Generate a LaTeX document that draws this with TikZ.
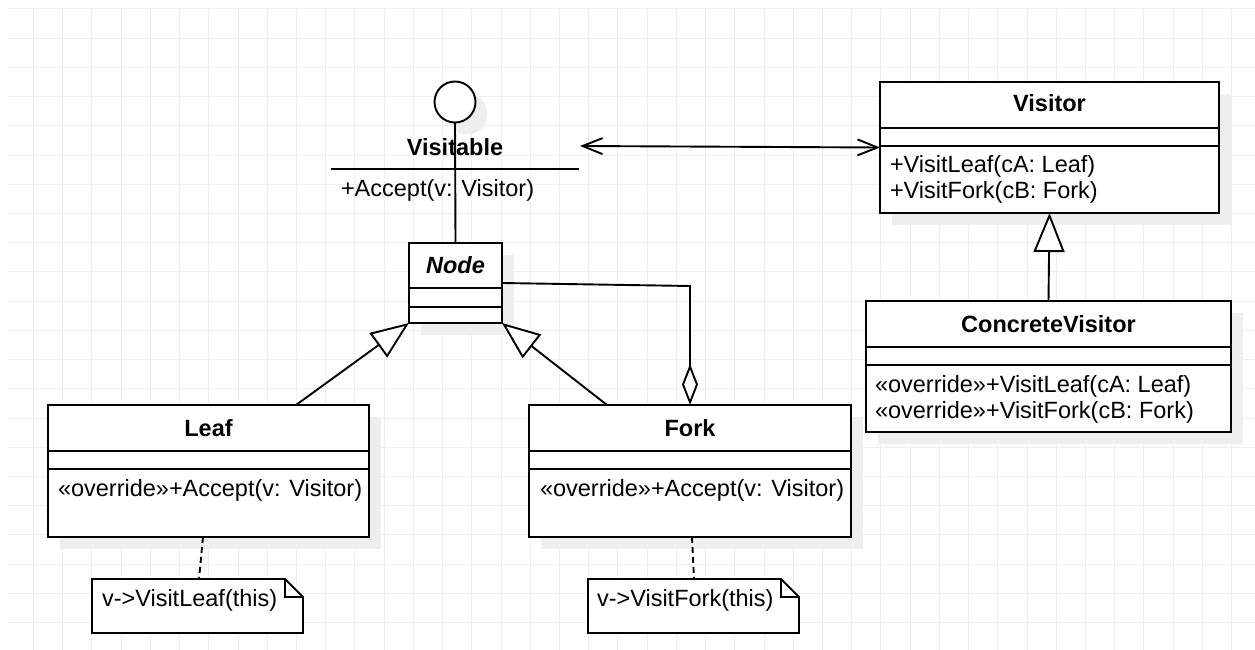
\documentclass[tikz,border=0pt]{standalone}
\usepackage{fontspec}
\setmainfont{Liberation Sans}
\usetikzlibrary{arrows.meta,calc}
\definecolor{gridc}{RGB}{238,238,238}
\definecolor{shadowc}{RGB}{238,238,238}

\begin{document}
\begin{tikzpicture}[x=1pt,y=-1pt,
  every node/.style={inner sep=0pt, outer sep=0pt},
  gridline/.style={draw=gridc, line width=1pt},
  umlline/.style={draw=black, line width=1.9pt, line join=miter},
  dropshade/.style={preaction={fill=shadowc, draw=none, transform canvas={xshift=12pt,yshift=-12pt}}},
  umlbox/.style={rectangle, draw=black, line width=1.9pt, fill=white, dropshade},
  notebox/.style={rectangle},
  classname/.style={font=\fontsize{23.5}{26}\selectfont\bfseries, anchor=base},
  member/.style={font=\fontsize{23.5}{26}\selectfont, anchor=base west},
  gentip/.style={-{Triangle[length=39pt,width=31pt,fill=white]}},
  aggtip/.style={-{Diamond[length=41pt,width=16pt,fill=white]}},
  navtip/.style={{Straight Barb[length=20pt,width=16pt]}-{Straight Barb[length=20pt,width=16pt]}},
  notelink/.style={umlline, dash pattern=on 6pt off 4pt}
]
\useasboundingbox (0,0) rectangle (1255,650);
\fill[white] (0,0) rectangle (1255,650);

% background grid
\foreach \i in {1,...,42} {
  \draw[gridline] ({4.3+29.22*\i},9) -- ({4.3+29.22*\i},650);
}
\foreach \j in {0,...,21} {
  \draw[gridline] (8,{9+29.22*\j}) -- (1255,{9+29.22*\j});
}

% interface lollipop
\node[circle, draw=black, line width=1.9pt, fill=white, minimum size=41pt, dropshade] (iface) at (455,102) {};
\node[classname] (iface-name) at (455,155) {Visitable};
\draw[umlline] (331,169) -- (579,169);
\node[member] (iface-op) at (341,196) {+Accept(v: Visitor)};

% class boxes
\node[umlbox, minimum width=339pt, minimum height=131pt] (visitor) at (1049.5,147.5) {};
\node[umlbox, minimum width=365pt, minimum height=131pt] (cvisitor) at (1048.5,366.5) {};
\node[umlbox, minimum width=93pt, minimum height=80pt] (nodecls) at (455.5,283) {};
\node[umlbox, minimum width=321pt, minimum height=132pt] (leaf) at (208.5,471) {};
\node[umlbox, minimum width=322pt, minimum height=132pt] (fork) at (690,471) {};

% compartment dividers
\foreach \b/\ya/\yb in {visitor/128/146, cvisitor/347/365, nodecls/288/307, leaf/451/469, fork/451/469} {
  \draw[umlline] (\b.west |- 0,\ya) -- (\b.east |- 0,\ya);
  \draw[umlline] (\b.west |- 0,\yb) -- (\b.east |- 0,\yb);
}

% class texts
\node[classname] (visitor-name) at (1049.5,112) {Visitor};
\node[member] (visitor-op1) at (890,172) {+VisitLeaf(cA: Leaf)};
\node[member] (visitor-op2) at (890,198) {+VisitFork(cB: Fork)};

\node[classname] (cvisitor-name) at (1048.5,332) {ConcreteVisitor};
\node[member] (cvisitor-op1) at (875,392) {«override»+VisitLeaf(cA: Leaf)};
\node[member] (cvisitor-op2) at (875,418) {«override»+VisitFork(cB: Fork)};

\node[classname, font=\fontsize{23.5}{26}\selectfont\bfseries\itshape] (node-name) at (455.5,273) {Node};

\node[classname] (leaf-name) at (208.5,436) {Leaf};
\node[member] (leaf-op) at (58,496) {«override»+Accept(v: Visitor)};

\node[classname] (fork-name) at (690,436) {Fork};
\node[member] (fork-op) at (540,496) {«override»+Accept(v: Visitor)};

% notes with folded corner
\node[notebox, minimum width=211pt, minimum height=54pt] (leafnote) at (197.5,606) {};
\node[notebox, minimum width=211pt, minimum height=54pt] (forknote) at (693.5,606) {};
\foreach \n in {leafnote, forknote} {
  \draw[umlline, fill=white] (\n.north west) -- ([xshift=-18pt]\n.north east)
    -- ([yshift=-18pt]\n.north east) -- (\n.south east) -- (\n.south west) -- cycle;
  \draw[umlline] ([xshift=-18pt]\n.north east) -- ([xshift=-18pt,yshift=-18pt]\n.north east)
    -- ([yshift=-18pt]\n.north east);
}
\node[member] (leafnote-text) at (102,606) {v->VisitLeaf(this)};
\node[member] (forknote-text) at (597,606) {v->VisitFork(this)};

% connectors
\coordinate (assocend) at (580,146);
\draw[umlline] (iface.south) -- (nodecls.north);
\draw[umlline, navtip] (assocend) -- (visitor.west);
\draw[umlline, gentip] (cvisitor.north) -- (visitor.south);
\draw[umlline, -{Triangle[length=38pt,width=30pt,fill=white]}] ([xshift=87.5pt]leaf.north) -- (nodecls.south west);
\draw[umlline, -{Triangle[length=38pt,width=30pt,fill=white]}] ([xshift=-83pt]fork.north) -- (nodecls.south east);
\draw[umlline, aggtip] (nodecls.east) -- ([yshift=119pt]fork.north) -- (fork.north);
\draw[notelink] ([xshift=-5.5pt]leaf.south) -- ([xshift=1.5pt]leafnote.north);
\draw[notelink] ([xshift=2pt]fork.south) -- ([xshift=0.5pt]forknote.north);
\end{tikzpicture}
\end{document}
